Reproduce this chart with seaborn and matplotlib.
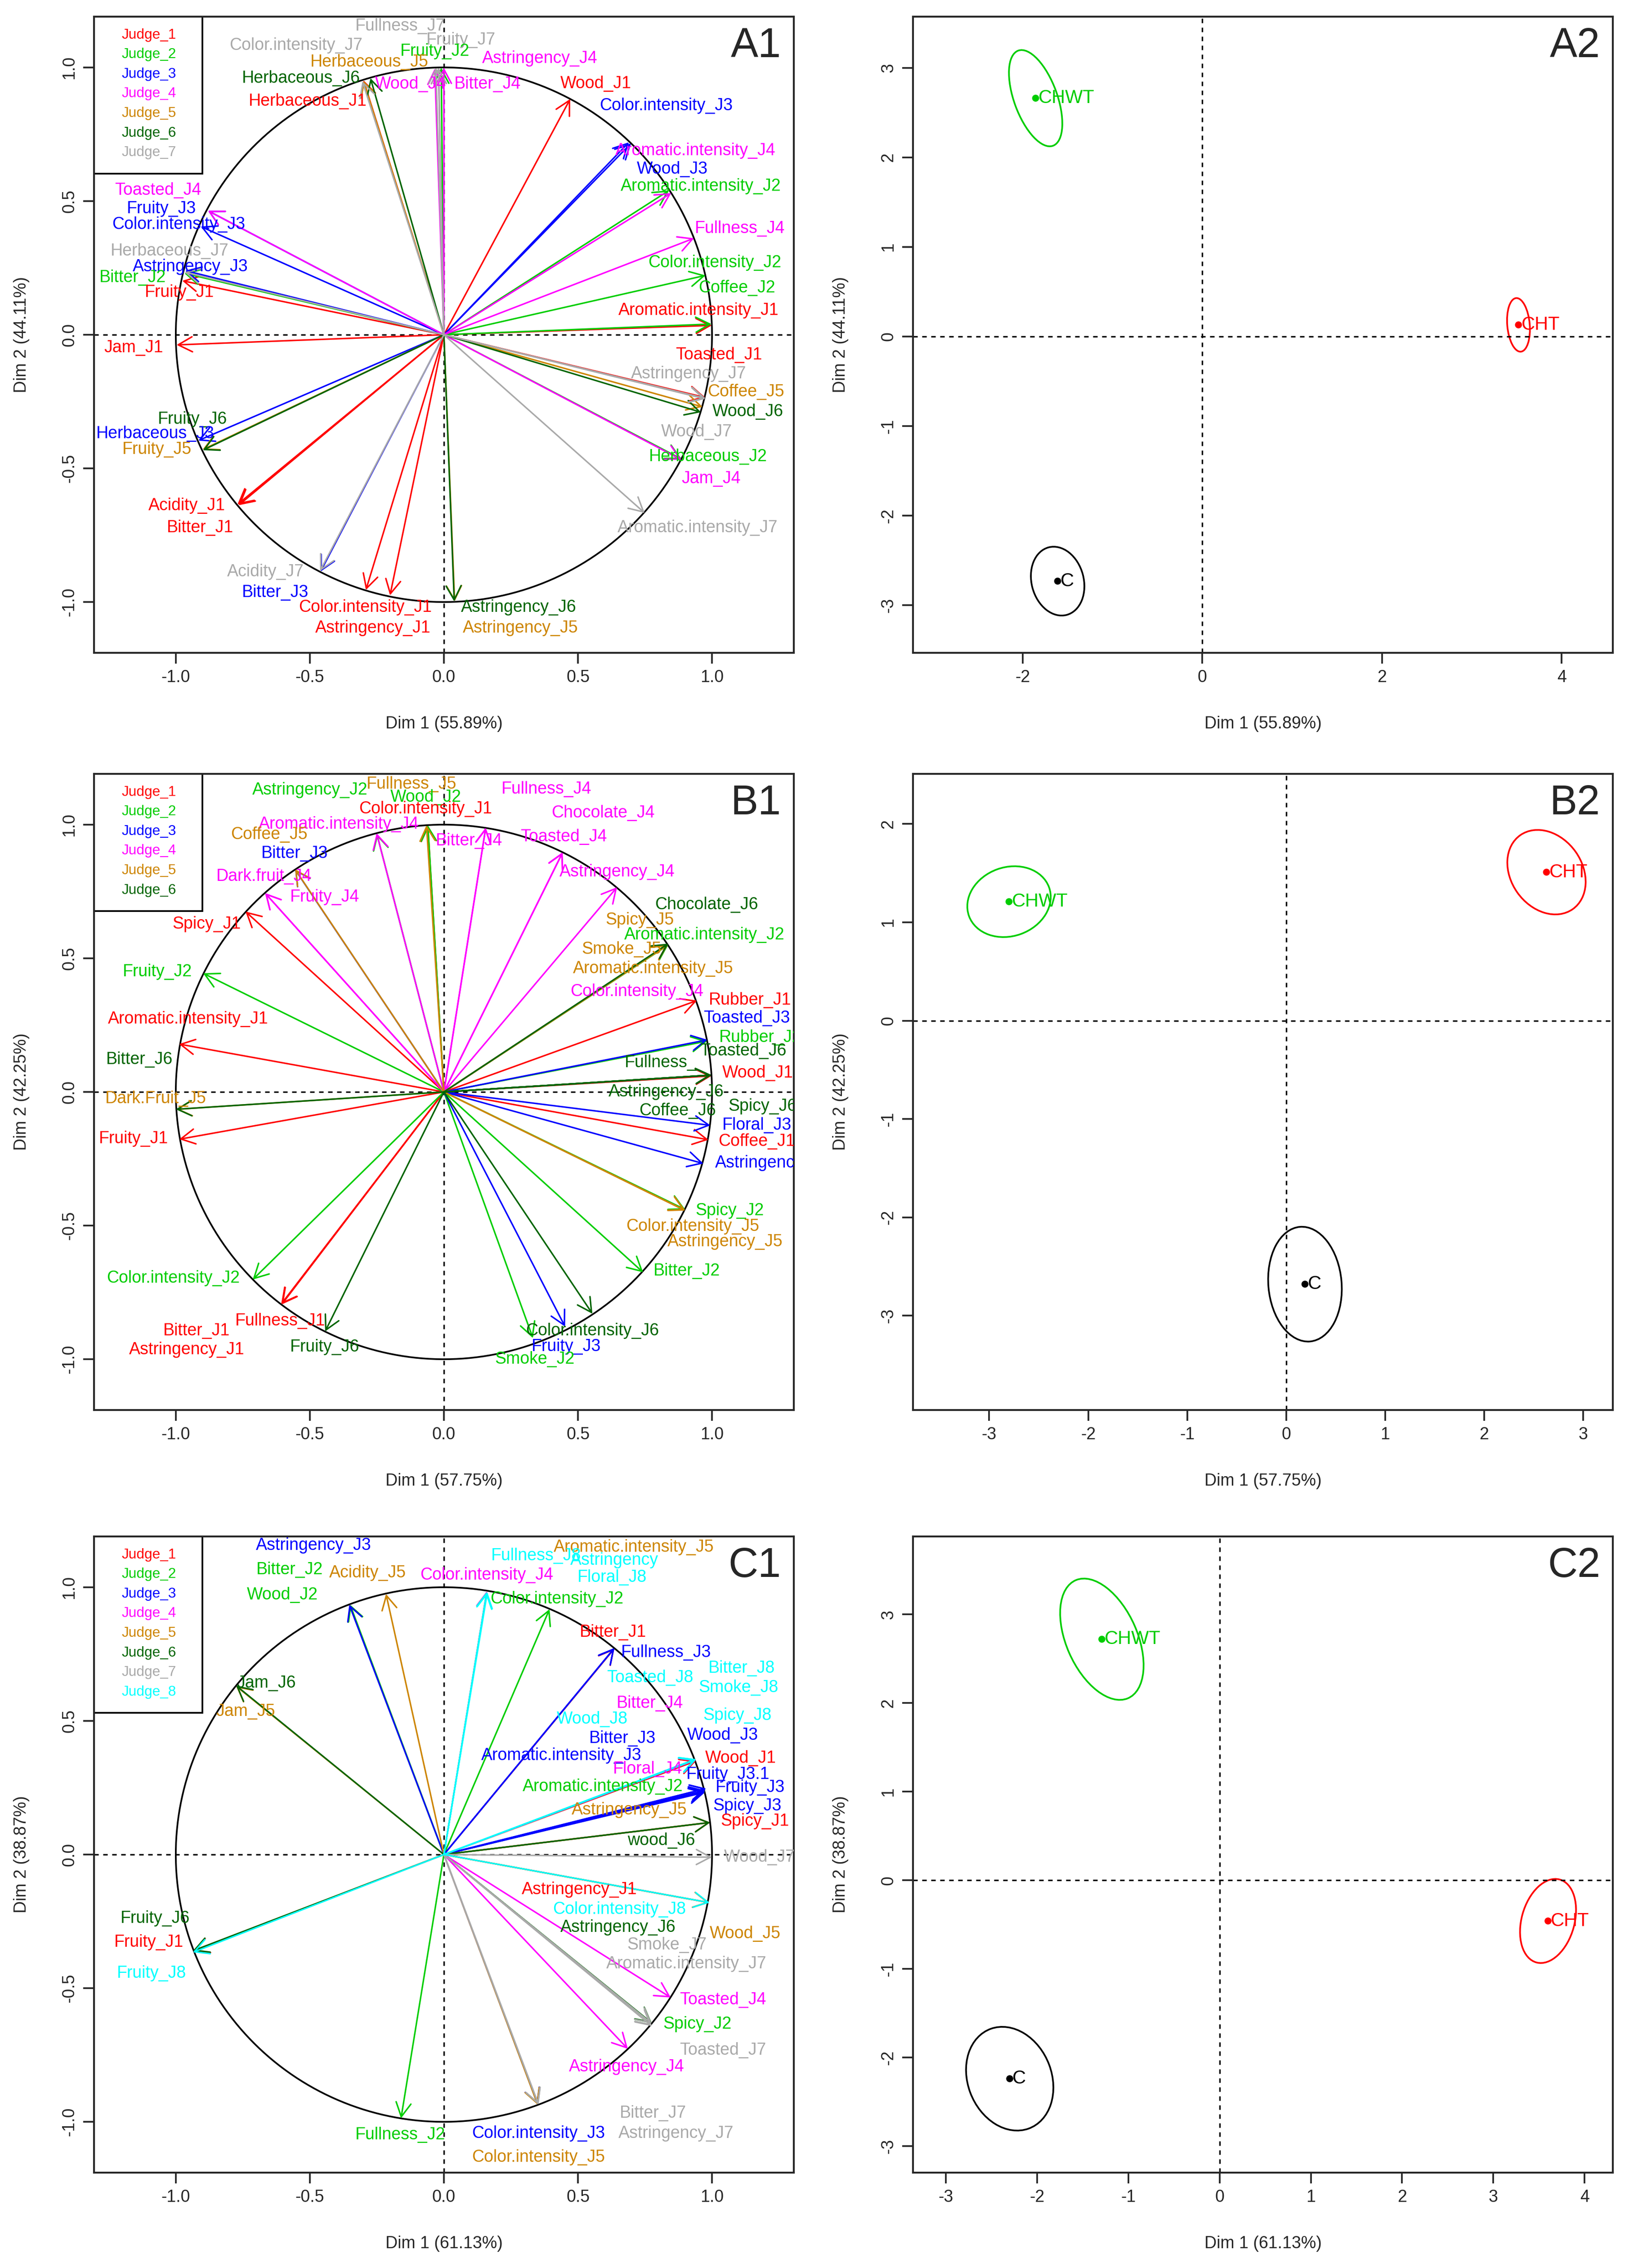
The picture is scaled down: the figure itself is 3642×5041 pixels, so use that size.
"""
MFA correlation circles (judges' descriptors) and individual factor maps
with confidence ellipses, for three sets of products (A, B, C).
"""
import numpy as np
import pandas as pd
import matplotlib
matplotlib.use("Agg")
import matplotlib.pyplot as plt
from matplotlib.patches import Ellipse, Rectangle
import seaborn as sns

# ---------------------------------------------------------------- data
JUDGE_COLORS = {1: "#FF0000", 2: "#00CD00", 3: "#0000FF", 4: "#FF00FF",
                5: "#CD8500", 6: "#006400", 7: "#A9A9A9", 8: "#00FFFF"}

# ---- A1 : variables (correlation with Dim 1 / Dim 2)
A1_names = ["Fullness_J7", "Fruity_J7", "Color.intensity_J7", "Fruity_J2", "Herbaceous_J5",
            "Astringency_J4", "Herbaceous_J6", "Wood_J4", "Bitter_J4", "Wood_J1",
            "Herbaceous_J1", "Color.intensity_J3", "Aromatic.intensity_J4", "Wood_J3",
            "Aromatic.intensity_J2", "Toasted_J4", "Fruity_J3", "Color.intensity_J3",
            "Fullness_J4", "Herbaceous_J7", "Color.intensity_J2", "Astringency_J3", "Bitter_J2",
            "Coffee_J2", "Fruity_J1", "Aromatic.intensity_J1", "Jam_J1", "Toasted_J1",
            "Astringency_J7", "Coffee_J5", "Wood_J6", "Fruity_J6", "Herbaceous_J3", "Wood_J7",
            "Fruity_J5", "Herbaceous_J2", "Jam_J4", "Acidity_J1", "Bitter_J1",
            "Aromatic.intensity_J7", "Acidity_J7", "Bitter_J3", "Color.intensity_J1",
            "Astringency_J6", "Astringency_J1", "Astringency_J5"]
A1_judge = [7, 7, 7, 2, 5, 4, 6, 4, 4, 1, 1, 3, 4, 3, 2, 4, 3, 3, 4, 7, 2, 3, 2, 2, 1, 1, 1, 1,
            7, 5, 6, 6, 3, 7, 5, 2, 4, 1, 1, 7, 7, 3, 1, 6, 1, 5]
A1_x = [-0.03, -0.02, -0.304, -0.01, -0.30, 0.0, -0.274, -0.034, -0.02, 0.471, -0.30, 0.69,
        0.848, 0.698, 0.84, -0.88, -0.88, -0.907, 0.933, -0.967, 0.976, -0.965, -0.968, 0.998,
        -0.976, 0.999, -0.997, 0.975, 0.976, 0.965, 0.959, -0.899, -0.916, 0.975, -0.90, 0.886,
        0.886, -0.766, -0.77, 0.749, -0.462, -0.46, -0.291, 0.0385, -0.201, 0.04]
A1_y = [0.999, 0.999, 0.948, 0.999, 0.950, 0.999, 0.960, 0.996, 0.998, 0.882, 0.952, 0.72,
        0.53, 0.716, 0.54, 0.464, 0.464, 0.405, 0.361, 0.234, 0.222, 0.24, 0.23, 0.04, 0.202,
        0.035, -0.038, -0.235, -0.238, -0.27, -0.29, -0.432, -0.396, -0.24, -0.43, -0.465,
        -0.468, -0.638, -0.635, -0.667, -0.884, -0.886, -0.955, -0.998, -0.975, -0.998]

# ---- B1
B1_names = ["Astringency_J2", "Fullness_J5", "Wood_J2", "Color.intensity_J1", "Fullness_J4",
            "Aromatic.intensity_J4", "Chocolate_J4", "Coffee_J5", "Bitter_J4", "Toasted_J4",
            "Bitter_J3", "Dark.fruit_J4", "Astringency_J4", "Fruity_J4", "Chocolate_J6",
            "Spicy_J1", "Spicy_J5", "Aromatic.intensity_J2", "Smoke_J5", "Fruity_J2",
            "Aromatic.intensity_J5", "Color.intensity_J4", "Rubber_J1", "Aromatic.intensity_J1",
            "Toasted_J3", "Rubber_J2", "Toasted_J6", "Bitter_J6", "Fullness_", "Wood_J1",
            "Dark.Fruit_J5", "Astringency_J6", "Spicy_J6", "Coffee_J6", "Floral_J3", "Fruity_J1",
            "Coffee_J1", "Astringency_J3", "Spicy_J2", "Color.intensity_J5", "Astringency_J5",
            "Color.intensity_J2", "Bitter_J2", "Fullness_J1", "Bitter_J1", "Color.intensity_J6",
            "Fruity_J6", "Astringency_J1", "Fruity_J3", "Smoke_J2"]
B1_judge = [2, 5, 2, 1, 4, 4, 4, 5, 4, 4, 3, 4, 4, 4, 6, 1, 5, 2, 5, 2, 5, 4, 1, 1, 3, 2, 6, 6,
            6, 1, 5, 6, 6, 6, 3, 1, 1, 3, 2, 5, 5, 2, 2, 1, 1, 6, 6, 1, 3, 2]
B1_x = [-0.25, -0.065, -0.06, -0.06, 0.156, -0.251, 0.443, -0.555, 0.156, 0.443, -0.555,
        -0.667, 0.646, -0.667, 0.837, -0.74, 0.835, 0.837, 0.835, -0.898, 0.835, 0.835, 0.944,
        -0.988, 0.983, 0.982, 0.998, -1.0, 0.998, 0.998, -0.998, 0.998, 0.998, 0.998, 0.994,
        -0.987, 0.987, 0.968, 0.90, 0.90, 0.90, -0.713, 0.743, -0.606, -0.605, 0.554, -0.443,
        -0.607, 0.452, 0.332]
B1_y = [0.965, 0.998, 0.998, 0.997, 0.988, 0.968, 0.897, 0.833, 0.989, 0.896, 0.832, 0.744,
        0.766, 0.744, 0.555, 0.675, 0.55, 0.55, 0.55, 0.444, 0.552, 0.552, 0.342, 0.179, 0.195,
        0.19, 0.063, -0.065, 0.063, 0.06, -0.065, 0.063, 0.063, 0.063, -0.125, -0.177, -0.179,
        -0.268, -0.44, -0.443, -0.444, -0.702, -0.675, -0.795, -0.795, -0.83, -0.896, -0.794,
        -0.878, -0.921]

# ---- C1
C1_names = ["Astringency_J3", "Aromatic.intensity_J5", "Fullness_J8", "Astringency", "Bitter_J2",
            "Acidity_J5", "Color.intensity_J4", "Floral_J8", "Wood_J2", "Color.intensity_J2",
            "Bitter_J1", "Fullness_J3", "Bitter_J8", "Toasted_J8", "Jam_J6", "Smoke_J8",
            "Bitter_J4", "Jam_J5", "Spicy_J8", "Wood_J8", "Wood_J3", "Bitter_J3",
            "Aromatic.intensity_J3", "Wood_J1", "Floral_J4", "Fruity_J3.1",
            "Aromatic.intensity_J2", "Fruity_J3", "Astringency_J5", "Spicy_J3", "Spicy_J1",
            "wood_J6", "Wood_J7", "Astringency_J1", "Fruity_J6", "Color.intensity_J8",
            "Astringency_J6", "Fruity_J1", "Wood_J5", "Smoke_J7", "Aromatic.intensity_J7",
            "Fruity_J8", "Toasted_J4", "Spicy_J2", "Toasted_J7", "Astringency_J4", "Bitter_J7",
            "Fullness_J2", "Color.intensity_J3", "Astringency_J7", "Color.intensity_J5"]
C1_judge = [3, 5, 8, 8, 2, 5, 4, 8, 2, 2, 1, 3, 8, 8, 6, 8, 4, 5, 8, 8, 3, 3, 3, 1, 4, 3, 2, 3,
            5, 3, 1, 6, 7, 1, 6, 8, 6, 1, 5, 7, 7, 8, 4, 2, 7, 4, 7, 2, 3, 7, 5]
C1_x = [-0.353, 0.16, 0.16, 0.16, -0.35, -0.216, 0.16, 0.162, -0.352, 0.394, 0.636, 0.636,
        0.94, 0.94, -0.775, 0.94, 0.94, -0.775, 0.94, 0.94, 0.978, 0.975, 0.636, 0.94, 0.94,
        0.978, 0.975, 0.974, 0.993, 0.975, 0.993, 0.993, 1.0, 0.99, -0.936, 0.991, 0.775,
        -0.935, 0.99, 0.775, 0.776, -0.936, 0.846, 0.775, 0.775, 0.686, 0.353, -0.16, 0.35,
        0.353, 0.35]
C1_y = [0.935, 0.983, 0.983, 0.98, 0.935, 0.975, 0.985, 0.982, 0.934, 0.918, 0.771, 0.773,
        0.357, 0.355, 0.632, 0.356, 0.355, 0.63, 0.357, 0.356, 0.247, 0.24, 0.772, 0.35, 0.354,
        0.247, 0.235, 0.233, 0.12, 0.238, 0.12, 0.12, -0.01, -0.18, -0.36, -0.18, -0.63,
        -0.362, -0.18, -0.64, -0.642, -0.366, -0.535, -0.632, -0.632, -0.727, -0.936, -0.987,
        -0.935, -0.935, -0.936]

# ---- individual maps: product centroids and confidence ellipses
PRODUCTS = ["CHWT", "CHT", "C"]
PRODUCT_COLORS = {"CHWT": "#00CD00", "CHT": "#FF0000", "C": "#000000"}
A2_x = [-1.855, 3.52, -1.61]
A2_y = [2.66, 0.13, -2.73]
A2_major = [1.13, 0.60, 0.78]
A2_minor = [0.48, 0.25, 0.58]
A2_angle = [110, 95, 105]
B2_x = [-2.80, 2.63, 0.19]
B2_y = [1.21, 1.51, -2.68]
B2_major = [0.86, 0.92, 1.17]
B2_minor = [0.70, 0.72, 0.74]
B2_angle = [20, 125, 95]
C2_x = [-1.29, 3.60, -2.30]
C2_y = [2.72, -0.46, -2.24]
C2_major = [1.45, 0.97, 1.20]
C2_minor = [0.78, 0.58, 0.92]
C2_angle = [113, 75, 110]

PCT = {"A": ("55.89", "44.11"), "B": ("57.75", "42.25"), "C": ("61.13", "38.87")}

# ---------------------------------------------------------------- layout (label anchors)
A1_lab_x = [-0.163, 0.064, -0.552, -0.034, -0.278, 0.358, -0.533, -0.124, 0.163, 0.567,
            -0.507, 0.829, 0.9375, 0.852, 0.959, -1.066, -1.053, -0.989, 1.104, -1.023, 1.01,
            -0.946, -1.16, 1.092, -0.986, 0.949, -1.158, 1.026, 0.912, 1.126, 1.134, -0.9375,
            -1.076, 0.942, -1.07, 0.985, 0.997, -0.959, -0.909, 0.946, -0.665, -0.629, -0.294,
            0.278, -0.265, 0.285]
A1_lab_y = [1.155, 1.103, 1.083, 1.06, 1.02, 1.034, 0.96, 0.937, 0.937, 0.94, 0.873, 0.857,
            0.688, 0.619, 0.556, 0.54, 0.471, 0.413, 0.397, 0.313, 0.27, 0.254, 0.214, 0.175,
            0.159, 0.091, -0.048, -0.075, -0.147, -0.213, -0.287, -0.317, -0.371, -0.363,
            -0.429, -0.456, -0.538, -0.639, -0.722, -0.722, -0.887, -0.964, -1.02, -1.02,
            -1.097, -1.097]
B1_lab_x = [-0.50, -0.12, -0.067, -0.069, 0.383, -0.392, 0.593, -0.651, 0.094, 0.447, -0.557,
            -0.671, 0.646, -0.444, 0.98, -0.885, 0.73, 0.972, 0.662, -1.069, 0.781, 0.72, 1.141,
            -0.954, 1.129, 1.18, 1.116, -1.136, 0.809, 1.171, -1.075, 0.829, 1.188, 0.871, 1.167,
            -1.158, 1.167, 1.227, 1.066, 0.927, 1.049, -1.009, 0.906, -0.61, -0.923, 0.554,
            -0.445, -0.959, 0.456, 0.338]
B1_lab_y = [1.129, 1.152, 1.103, 1.058, 1.133, 1.002, 1.044, 0.963, 0.939, 0.955, 0.892, 0.807,
            0.823, 0.728, 0.70, 0.627, 0.643, 0.588, 0.534, 0.45, 0.462, 0.376, 0.343, 0.272,
            0.276, 0.203, 0.154, 0.121, 0.11, 0.071, -0.026, 0.0, -0.054, -0.07, -0.124, -0.175,
            -0.185, -0.266, -0.444, -0.503, -0.56, -0.696, -0.67, -0.856, -0.893, -0.894,
            -0.954, -0.964, -0.953, -1.0]
C1_lab_x = [-0.486, 0.709, 0.344, 0.636, -0.576, -0.284, 0.16, 0.627, -0.602, 0.421, 0.631,
            0.828, 1.11, 0.768, -0.662, 1.098, 0.768, -0.739, 1.094, 0.554, 1.04, 0.666, 0.439,
            1.107, 0.76, 1.06, 0.593, 1.142, 0.691, 1.132, 1.159, 0.811, 1.177, 0.506, -1.077,
            0.655, 0.649, -1.10, 1.124, 0.832, 0.905, -1.09, 1.04, 0.945, 1.04, 0.682, 0.78,
            -0.162, 0.353, 0.866, 0.353]
C1_lab_y = [1.157, 1.15, 1.118, 1.10, 1.065, 1.053, 1.045, 1.037, 0.972, 0.956, 0.832, 0.756,
            0.696, 0.661, 0.642, 0.625, 0.565, 0.535, 0.52, 0.507, 0.446, 0.435, 0.37, 0.36,
            0.32, 0.299, 0.254, 0.25, 0.167, 0.181, 0.124, 0.053, -0.01, -0.131, -0.239, -0.205,
            -0.273, -0.328, -0.297, -0.339, -0.409, -0.444, -0.543, -0.635, -0.732, -0.795,
            -0.968, -1.049, -1.043, -1.043, -1.132]

FIG_W, FIG_H = 3642, 5041
DPI = 300
LEFT_BOX = (209, 1556)      # x0, width in px
RIGHT_BOX = (2030, 1556)
ROW_TOPS = [37, 1720, 3415]
BOX_H = 1414
LABEL_FS = 9
DASH = (0, (3, 3))


def make_axes(fig, x0, w, top):
    return fig.add_axes([x0 / FIG_W, 1 - (top + BOX_H) / FIG_H, w / FIG_W, BOX_H / FIG_H])


def style_axes(ax, w_px, dim1, dim2):
    for s in ax.spines.values():
        s.set_linewidth(1.0)
    ax.tick_params(direction="out", length=5.8, width=0.9, labelsize=LABEL_FS, pad=3)
    ax.tick_params(axis="y", labelrotation=90)
    for t in ax.get_yticklabels():
        t.set_va("center")
    ax.set_xlabel(f"Dim 1 ({dim1}%)", fontsize=LABEL_FS, va="center")
    ax.set_ylabel(f"Dim 2 ({dim2}%)", fontsize=LABEL_FS, va="center")
    ax.xaxis.set_label_coords(0.5, -158 / BOX_H)
    ax.yaxis.set_label_coords(-161 / w_px, 0.5)


def panel_tag(ax, w_px, tag):
    ax.text(1 - 28 / w_px, 1 - 66 / BOX_H, tag, transform=ax.transAxes,
            fontsize=22, ha="right", va="center")


def draw_legend(ax, w_px, n):
    step = 43.6
    box_h = (n + 1) * step
    ax.add_patch(Rectangle((0, 1 - box_h / BOX_H), 241 / w_px, box_h / BOX_H,
                           transform=ax.transAxes, fill=False, ec="black", lw=0.9))
    for j in range(n):
        ax.text(62 / w_px, 1 - (j + 0.93) * step / BOX_H, f"Judge_{j + 1}",
                color=JUDGE_COLORS[j + 1], fontsize=7.6, ha="left", va="center",
                transform=ax.transAxes)


def plot_circle(ax, names, judges, xs, ys, lab_x, lab_y, n_judges, key, tag):
    w_px = LEFT_BOX[1]
    df = pd.DataFrame({"name": names, "judge": judges, "x": xs, "y": ys,
                       "lx": lab_x, "ly": lab_y})
    ax.set_xlim(-1.305, 1.305)
    ax.set_ylim(-1.19, 1.19)
    theta = np.linspace(0, 2 * np.pi, 500)
    ax.plot(np.cos(theta), np.sin(theta), color="black", lw=0.9)
    ax.axhline(0, color="black", lw=0.8, ls=DASH)
    ax.axvline(0, color="black", lw=0.8, ls=DASH)
    for _, r in df.sort_values("judge", kind="stable").iterrows():
        ax.annotate("", xy=(r.x, r.y), xytext=(0, 0),
                    arrowprops=dict(arrowstyle="->,head_length=0.75,head_width=0.4",
                                    color=JUDGE_COLORS[r.judge], lw=0.8,
                                    shrinkA=0, shrinkB=0, mutation_scale=10))
    for _, r in df.iterrows():
        ax.text(r.lx, r.ly, r["name"], color=JUDGE_COLORS[r.judge], fontsize=LABEL_FS,
                ha="center", va="center", clip_on=True)
    ticks = [-1.0, -0.5, 0.0, 0.5, 1.0]
    ax.set_xticks(ticks)
    ax.set_yticks(ticks)
    ax.set_xticklabels([f"{t:.1f}" for t in ticks])
    ax.set_yticklabels([f"{t:.1f}" for t in ticks])
    style_axes(ax, w_px, *PCT[key])
    draw_legend(ax, w_px, n_judges)
    panel_tag(ax, w_px, tag)


def plot_individuals(ax, xs, ys, major, minor, angle, xlim, ylim, xticks, yticks, key, tag):
    w_px = RIGHT_BOX[1]
    df = pd.DataFrame({"product": PRODUCTS, "x": xs, "y": ys})
    ax.set_xlim(*xlim)
    ax.set_ylim(*ylim)
    ax.axhline(0, color="black", lw=0.8, ls=DASH)
    ax.axvline(0, color="black", lw=0.8, ls=DASH)
    for i, p in enumerate(PRODUCTS):
        ax.add_patch(Ellipse((xs[i], ys[i]), major[i], minor[i], angle=angle[i],
                             fill=False, ec=PRODUCT_COLORS[p], lw=0.9))
    sns.scatterplot(data=df, x="x", y="y", hue="product", palette=PRODUCT_COLORS,
                    s=14, edgecolor="none", legend=False, ax=ax, zorder=3)
    for i, p in enumerate(PRODUCTS):
        ax.annotate(p, (xs[i], ys[i]), xytext=(1.5, 0), textcoords="offset points",
                    color=PRODUCT_COLORS[p], fontsize=10, ha="left", va="center")
    ax.set_xticks(xticks)
    ax.set_yticks(yticks)
    ax.set_xticklabels([str(t) for t in xticks])
    ax.set_yticklabels([str(t) for t in yticks])
    style_axes(ax, w_px, *PCT[key])
    panel_tag(ax, w_px, tag)


def main() -> None:
    sns.set_style("ticks")
    plt.rcParams["font.family"] = ["Liberation Sans", "DejaVu Sans"]
    plt.rcParams["axes.unicode_minus"] = False
    fig = plt.figure(figsize=(FIG_W / DPI, FIG_H / DPI), dpi=DPI)
    fig.patch.set_facecolor("white")

    axA1 = make_axes(fig, LEFT_BOX[0], LEFT_BOX[1], ROW_TOPS[0])
    axA2 = make_axes(fig, RIGHT_BOX[0], RIGHT_BOX[1], ROW_TOPS[0])
    axB1 = make_axes(fig, LEFT_BOX[0], LEFT_BOX[1], ROW_TOPS[1])
    axB2 = make_axes(fig, RIGHT_BOX[0], RIGHT_BOX[1], ROW_TOPS[1])
    axC1 = make_axes(fig, LEFT_BOX[0], LEFT_BOX[1], ROW_TOPS[2])
    axC2 = make_axes(fig, RIGHT_BOX[0], RIGHT_BOX[1], ROW_TOPS[2])

    plot_circle(axA1, A1_names, A1_judge, A1_x, A1_y, A1_lab_x, A1_lab_y, 7, "A", "A1")
    plot_circle(axB1, B1_names, B1_judge, B1_x, B1_y, B1_lab_x, B1_lab_y, 6, "B", "B1")
    plot_circle(axC1, C1_names, C1_judge, C1_x, C1_y, C1_lab_x, C1_lab_y, 8, "C", "C1")

    plot_individuals(axA2, A2_x, A2_y, A2_major, A2_minor, A2_angle,
                     (-3.22, 4.57), (-3.53, 3.57), [-2, 0, 2, 4], [-3, -2, -1, 0, 1, 2, 3],
                     "A", "A2")
    plot_individuals(axB2, B2_x, B2_y, B2_major, B2_minor, B2_angle,
                     (-3.77, 3.30), (-3.96, 2.51), [-3, -2, -1, 0, 1, 2, 3],
                     [-3, -2, -1, 0, 1, 2], "B", "B2")
    plot_individuals(axC2, C2_x, C2_y, C2_major, C2_minor, C2_angle,
                     (-3.36, 4.31), (-3.30, 3.88), [-3, -2, -1, 0, 1, 2, 3, 4],
                     [-3, -2, -1, 0, 1, 2, 3], "C", "C2")

    fig.savefig("out.png", dpi=DPI, facecolor="white")


if __name__ == "__main__":
    main()
